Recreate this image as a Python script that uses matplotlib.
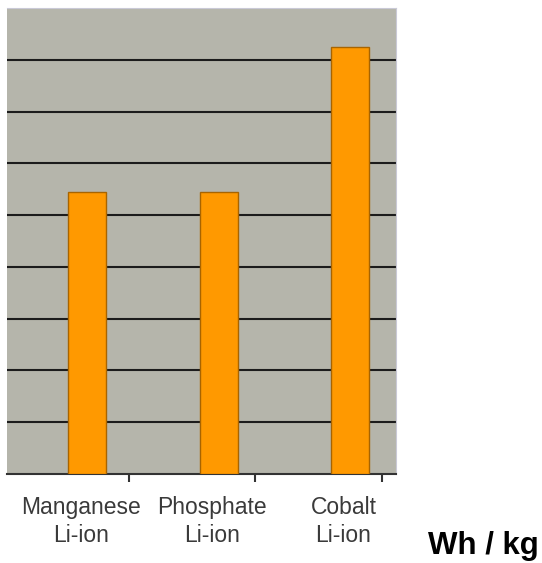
"""Energy density of Li-ion chemistries."""

import matplotlib

matplotlib.use("Agg")
import matplotlib.pyplot as plt
import numpy as np

categories = ["Manganese\nLi-ion", "Phosphate\nLi-ion", "Cobalt\nLi-ion"]
energy_wh_kg = [109, 109, 165]
unit_label = "Wh / kg"

plt.rcParams["font.family"] = ["Liberation Sans", "DejaVu Sans"]

fig = plt.figure(figsize=(5.42, 5.63), dpi=100)
ax = fig.add_axes([7 / 542, 89 / 563, 389 / 542, 466 / 563])
ax.set_facecolor("#b5b5ab")

x = np.arange(len(categories))
ax.set_axisbelow(True)
ax.yaxis.grid(True, color="#1c1c1c", linewidth=1.5)
ax.bar(x, energy_wh_kg, width=0.29, color="#ff9900", edgecolor="#a86400", linewidth=1, zorder=3)

ax.set_ylim(0, 180)
ax.set_yticks(np.arange(20, 180, 20))
ax.tick_params(axis="y", left=False, labelleft=False)
ax.set_xlim(-0.61, 2.35)

# labels sit slightly left of the bars, separator ticks between categories
ax.set_xticks(x - 0.05)
ax.set_xticklabels(categories, fontsize=16.5, color="#3a3a3a", linespacing=1.25)
ax.tick_params(axis="x", which="major", length=0, pad=16)
ax.set_xticks(x + 0.32 - 0.04 * x, minor=True)
ax.tick_params(axis="x", which="minor", length=6, width=1.5, color="#333333", direction="out")

ax.spines["left"].set_visible(False)
ax.spines["top"].set_color("#c9c9d6")
ax.spines["right"].set_color("#c9c9d6")
ax.spines["bottom"].set_color("#333333")
ax.spines["bottom"].set_linewidth(1.5)

fig.text(428 / 542, 9 / 563, unit_label, fontsize=22.5, fontweight="bold", ha="left", va="baseline")

fig.savefig("out.png", dpi=100, facecolor="white")
plt.close(fig)
